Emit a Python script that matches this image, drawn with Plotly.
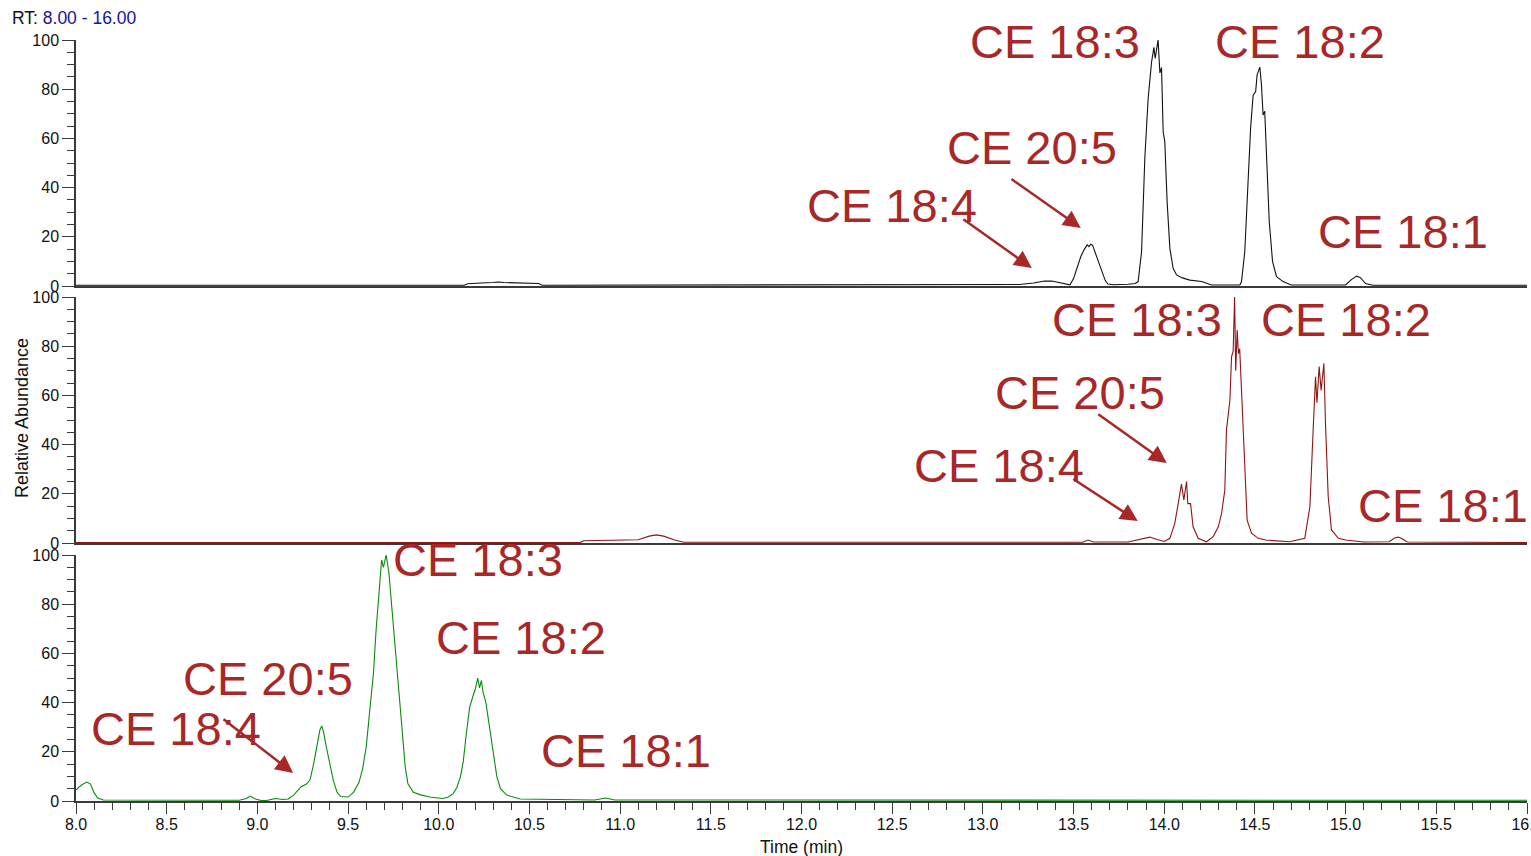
import plotly.graph_objects as go

# ---- chromatogram traces: retention time (min) and relative abundance (%) ----
TOP_T = [8.00, 9.20, 10.14, 10.16, 10.24, 10.26, 10.30, 10.33, 10.36, 10.45, 10.55, 10.57,
         12.90, 12.95, 13.20, 13.28, 13.34, 13.38, 13.44, 13.48, 13.50, 13.52, 13.54, 13.56,
         13.575, 13.585, 13.595, 13.605, 13.62, 13.64, 13.66, 13.675, 13.69, 13.72, 13.80,
         13.84, 13.856, 13.875, 13.893, 13.911, 13.930, 13.943, 13.950, 13.966, 13.976,
         13.985, 13.994, 14.003, 14.016, 14.031, 14.049, 14.068, 14.10, 14.141, 14.206,
         14.261, 14.417, 14.426, 14.444, 14.463, 14.476, 14.490, 14.504, 14.512, 14.527,
         14.536, 14.545, 14.554, 14.564, 14.579, 14.597, 14.619, 14.655, 14.70, 15.00,
         15.03, 15.06, 15.08, 15.11, 15.15, 16.00]
TOP_I = [0.3, 0.3, 0.3, 0.9, 1.0, 1.3, 1.4, 1.6, 1.4, 1.3, 1.0, 0.3,
         0.3, 0.6, 0.6, 1.2, 2.0, 2.0, 1.0, 0.5, 3.0, 8.0, 12.0, 15.0,
         16.7, 16.0, 17.0, 16.5, 13.5, 9.0, 5.3, 2.2, 0.8, 0.5, 0.7,
         1.0, 1.8, 14, 52, 76, 91, 97, 92.5, 100, 86.6,
         88.8, 62.7, 58.7, 34, 15.3, 7.2, 4.5, 3.3, 2.4, 1.8,
         0.4, 0.4, 1.8, 14, 41, 64, 77.6, 79, 85.8, 89,
         81.7, 69.5, 71, 50.5, 26, 10, 3.8, 1.8, 0.4, 0.4,
         2.5, 4.0, 3.5, 1.0, 0.3, 0.3]

MID_T = [8.00, 10.78, 10.80, 11.00, 11.10, 11.16, 11.20, 11.24, 11.30, 11.35,
         13.55, 13.58, 13.61, 13.80, 13.86, 13.92, 13.96, 14.00, 14.031, 14.058,
         14.077, 14.095, 14.108, 14.123, 14.13, 14.145, 14.159, 14.187, 14.233, 14.270,
         14.298, 14.316, 14.334, 14.343, 14.362, 14.371, 14.380, 14.388, 14.394, 14.402,
         14.409, 14.416, 14.426, 14.444, 14.457, 14.481, 14.518, 14.56, 14.69, 14.775,
         14.803, 14.821, 14.834, 14.842, 14.854, 14.865, 14.880, 14.889, 14.904, 14.922,
         14.96, 15.00, 15.10, 15.24, 15.27, 15.29, 15.31, 15.34, 16.00]
MID_I = [0.2, 0.2, 0.9, 1.0, 1.3, 2.8, 3.3, 2.8, 1.2, 0.3,
         0.3, 1.2, 0.4, 0.4, 1.5, 2.4, 1.4, 0.6, 1.9, 8,
         16, 24, 17.5, 25, 16, 16, 6.6, 1.9, 0.5, 2.6,
         6.6, 12, 21.5, 46, 58, 75.7, 78, 100, 70, 86.6,
         77, 79, 62, 35, 9.3, 4, 1.9, 1.2, 0.5, 1.9,
         14.8, 46, 67.6, 57, 71.7, 62, 73, 48.6, 18.8, 5.3,
         1.9, 1.2, 0.4, 0.5, 2.0, 2.4, 1.8, 0.4, 0.2]

BOT_T = [8.00, 8.03, 8.06, 8.08, 8.10, 8.12, 8.15, 8.90, 8.94, 8.96, 8.99, 9.02,
         9.05, 9.08, 9.10, 9.14, 9.17, 9.20, 9.24, 9.27, 9.29, 9.31, 9.33, 9.345,
         9.355, 9.365, 9.38, 9.40, 9.42, 9.44, 9.46, 9.50, 9.53, 9.56, 9.58, 9.60,
         9.62, 9.64, 9.655, 9.67, 9.685, 9.695, 9.71, 9.725, 9.74, 9.755, 9.77, 9.785,
         9.80, 9.815, 9.83, 9.86, 9.90, 9.95, 10.02, 10.05, 10.08, 10.10, 10.12, 10.135,
         10.15, 10.17, 10.19, 10.20, 10.215, 10.225, 10.235, 10.245, 10.26, 10.275, 10.29,
         10.305, 10.32, 10.34, 10.375, 10.45, 10.86, 10.92, 10.97, 16.00]
BOT_I = [4.5, 6.5, 7.7, 6.9, 3.3, 1.2, 0.4, 0.3, 1.0, 2.0, 0.8, 0.2,
         0.2, 0.6, 1.0, 0.6, 0.8, 2.4, 5.7, 6.9, 8.5, 15, 24, 29,
         30.5, 28, 22, 15, 8, 3.5, 1.8, 1.6, 3.5, 7.5, 13, 22,
         36, 52, 70, 85, 98, 95, 100, 93, 80, 65, 53, 40,
         26, 14, 7, 3.5, 2.5, 1.6, 1.0, 1.5, 3, 5.5, 10, 16,
         26, 38, 43, 45, 50, 46, 49, 44, 40, 32, 24,
         16, 10, 5, 2.4, 0.8, 0.4, 1.2, 0.4, 0.3]

# ---- peak labels: text, label centre (min, %), arrow tail and head (min, %) ----
LABELS = ["CE 18:3", "CE 18:2", "CE 20:5", "CE 18:4", "CE 18:1"]
TOP_LABEL_POS = [(13.40, 99.2), (14.75, 99.2), (13.27, 56.1), (12.50, 32.9), (15.315, 22.0)]
MID_LABEL_POS = [(13.85, 90.7), (15.00, 90.7), (13.535, 61.0), (13.09, 31.7), (15.535, 15.4)]
BOT_LABEL_POS = [(10.216, 98.0), (10.453, 66.3), (9.058, 50.0), (8.551, 29.3), (11.032, 20.7)]

TOP_ARROWS = [((13.149, 43.9), (13.540, 23.6)), ((12.884, 27.6), (13.270, 7.3))]
MID_ARROWS = [((13.628, 52.8), (14.014, 32.5)), ((13.490, 26.4), (13.854, 8.9))]
BOT_ARROWS = [((8.805, 33.7), (9.197, 11.4))]

X_RANGE = [8.0, 16.0]
Y_RANGE = [0, 100]

TEXT_RED = "#A82828"
AXIS_GREY = "#3a3a3a"
FONT = "Arial, Liberation Sans, sans-serif"

panels = [
    (TOP_T, TOP_I, "#111111", "x", "y", TOP_LABEL_POS, TOP_ARROWS),
    (MID_T, MID_I, "#8E1414", "x2", "y2", MID_LABEL_POS, MID_ARROWS),
    (BOT_T, BOT_I, "#0A8A0A", "x3", "y3", BOT_LABEL_POS, BOT_ARROWS),
]

fig = go.Figure()
annotations = []
for t, inten, color, xa, ya, label_pos, arrows in panels:
    fig.add_trace(go.Scatter(x=t, y=inten, mode="lines", xaxis=xa, yaxis=ya,
                             line=dict(color=color, width=1.1), showlegend=False,
                             hoverinfo="x+y"))
    for text, (lx, ly) in zip(LABELS, label_pos):
        annotations.append(dict(x=lx, y=ly, xref=xa, yref=ya, text=text, showarrow=False,
                                xanchor="center", yanchor="middle",
                                font=dict(family=FONT, size=47, color=TEXT_RED)))
    for (tx, ty), (hx, hy) in arrows:
        annotations.append(dict(x=hx, y=hy, xref=xa, yref=ya, ax=tx, ay=ty,
                                axref=xa, ayref=ya, text="", showarrow=True,
                                arrowhead=2, arrowsize=1.4, arrowwidth=2.5,
                                arrowcolor=TEXT_RED, standoff=0, startstandoff=0))

PLOT_W = 1451.0
H = 761.0

annotations.append(dict(
    x=-66 / PLOT_W, y=1 + 22 / H, xref="paper", yref="paper",
    xanchor="left", yanchor="middle", showarrow=False,
    text="RT: <span style='color:#1414A0'>8.00 - 16.00</span>",
    font=dict(family=FONT, size=17.5, color="#111111")))
annotations.append(dict(
    x=-54 / PLOT_W, y=(801 - 418) / H, xref="paper", yref="paper",
    xanchor="center", yanchor="middle", showarrow=False, textangle=-90,
    text="Relative Abundance", font=dict(family=FONT, size=18, color="#111111")))
annotations.append(dict(
    x=(801 - 76) / PLOT_W, y=-(847 - 801) / H, xref="paper", yref="paper",
    xanchor="center", yanchor="middle", showarrow=False,
    text="Time (min)", font=dict(family=FONT, size=17.5, color="#111111")))

y_common = dict(range=Y_RANGE, dtick=20, tick0=0, ticks="outside", ticklen=12,
                tickwidth=1.2, tickcolor=AXIS_GREY, showline=True, linecolor=AXIS_GREY,
                linewidth=1.5, showgrid=False, zeroline=False, automargin=False,
                tickfont=dict(family=FONT, size=16, color="#111111"),
                minor=dict(dtick=5, tick0=0, ticks="outside", ticklen=7,
                           tickwidth=1.2, tickcolor=AXIS_GREY, showgrid=False))
x_common = dict(range=X_RANGE, showline=True, linecolor=AXIS_GREY, linewidth=1.8,
                showgrid=False, zeroline=False, automargin=False)

dom_top = [(801 - 286) / H, 1.0]
dom_mid = [(801 - 543) / H, (801 - 297) / H]
dom_bot = [0.0, (801 - 555) / H]

fig.update_layout(
    width=1531, height=856, autosize=False,
    margin=dict(l=76, r=4, t=40, b=55, autoexpand=False),
    paper_bgcolor="white", plot_bgcolor="white",
    font=dict(family=FONT, color="#111111"),
    xaxis=dict(x_common, anchor="y", showticklabels=False, ticks=""),
    xaxis2=dict(x_common, anchor="y2", matches="x", showticklabels=False, ticks=""),
    xaxis3=dict(x_common, anchor="y3", matches="x", ticks="outside", dtick=0.5, tick0=8,
                ticklen=11, tickwidth=1.2, tickcolor=AXIS_GREY, tickformat=".1f",
                ticklabeloverflow="allow", ticklabelstandoff=-3,
                tickfont=dict(family=FONT, size=16, color="#111111"),
                minor=dict(dtick=0.1, tick0=8, ticks="outside", ticklen=7,
                           tickwidth=1.2, tickcolor=AXIS_GREY, showgrid=False)),
    yaxis=dict(y_common, domain=dom_top, anchor="x"),
    yaxis2=dict(y_common, domain=dom_mid, anchor="x2"),
    yaxis3=dict(y_common, domain=dom_bot, anchor="x3"),
    annotations=annotations,
)

fig.write_html("out.html")
